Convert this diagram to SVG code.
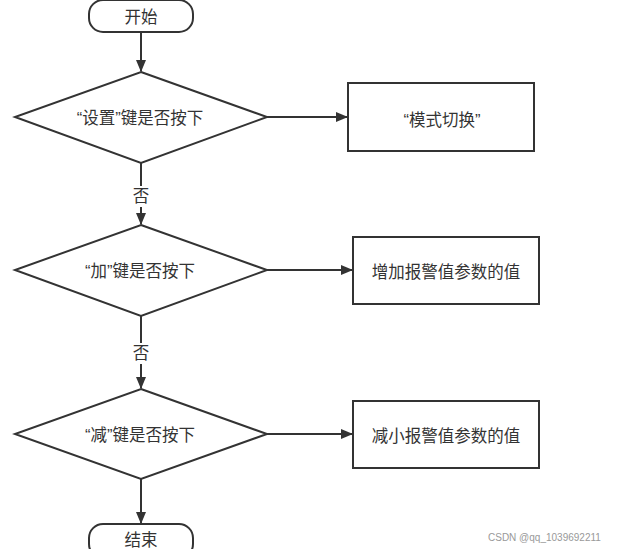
<svg xmlns="http://www.w3.org/2000/svg" width="624" height="549" viewBox="0 0 624 549">
<style>
.shape{fill:#fff;stroke:#333;stroke-width:2}
.t{font-family:"Liberation Sans","Noto Sans CJK SC",sans-serif;font-size:16.5px;fill:#333;text-anchor:middle;dominant-baseline:central}
.edge{stroke:#333;stroke-width:2;fill:none}
.wm{font-family:"Liberation Sans",sans-serif;font-size:10px;fill:#999}
</style>
<defs>
<marker id="arr" markerWidth="12" markerHeight="10" refX="11" refY="5" orient="auto" markerUnits="userSpaceOnUse">
<path d="M0,0 L12,5 L0,10 Z" fill="#333"/>
</marker>
</defs>
<rect width="624" height="549" fill="#fff"/>
<g id="connectors">
<line class="edge" x1="141" y1="33" x2="141" y2="71" marker-end="url(#arr)"/>
<line class="edge" x1="267" y1="117" x2="347" y2="117" marker-end="url(#arr)"/>
<line class="edge" x1="141" y1="163" x2="141" y2="186"/>
<line class="edge" x1="141" y1="207" x2="141" y2="224" marker-end="url(#arr)"/>
<text class="t" x="141" y="196">否</text>
<line class="edge" x1="267" y1="270" x2="352" y2="270" marker-end="url(#arr)"/>
<line class="edge" x1="141" y1="316" x2="141" y2="343"/>
<line class="edge" x1="141" y1="364" x2="141" y2="388" marker-end="url(#arr)"/>
<text class="t" x="141" y="353">否</text>
<line class="edge" x1="267" y1="434" x2="352" y2="434" marker-end="url(#arr)"/>
<line class="edge" x1="141" y1="479" x2="141" y2="523" marker-end="url(#arr)"/>
</g>
<g id="start">
<rect class="shape" x="89" y="0" width="104" height="32" rx="14"/>
<text class="t" x="141" y="17">开始</text>
</g>
<g id="d1">
<polygon class="shape" points="141,72 267,117 141,163 15,117"/>
<text class="t" x="140" y="118">“设置”键是否按下</text>
</g>
<g id="r1">
<rect class="shape" x="348" y="83" width="186" height="68"/>
<text class="t" x="442" y="120">“模式切换”</text>
</g>
<g id="d2">
<polygon class="shape" points="141,225 267,270 141,316 15,270"/>
<text class="t" x="140" y="271">“加”键是否按下</text>
</g>
<g id="r2">
<rect class="shape" x="353" y="237" width="186" height="67"/>
<text class="t" x="446" y="272">增加报警值参数的值</text>
</g>
<g id="d3">
<polygon class="shape" points="141,389 267,434 141,479 15,434"/>
<text class="t" x="140" y="435">“减”键是否按下</text>
</g>
<g id="r3">
<rect class="shape" x="353" y="401" width="186" height="67"/>
<text class="t" x="446" y="436">减小报警值参数的值</text>
</g>
<g id="end">
<rect class="shape" x="89" y="524" width="104" height="34" rx="14"/>
<text class="t" x="141" y="540">结束</text>
</g>
<text class="wm" x="488" y="541">CSDN @qq_1039692211</text>
</svg>
